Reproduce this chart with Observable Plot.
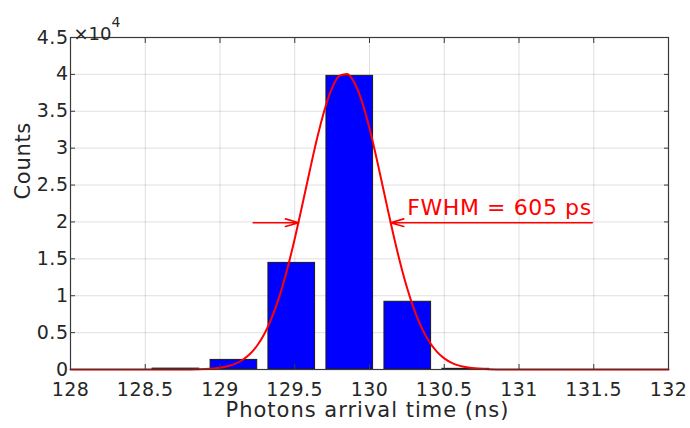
<!DOCTYPE html>
<html><head><meta charset="utf-8">
<script src="https://cdn.jsdelivr.net/npm/d3@7"></script>
<script src="https://cdn.jsdelivr.net/npm/@observablehq/plot@0.6"></script>
<style>body{margin:0;background:#fff;}</style>
</head><body><div id="chart"></div>
<script>
// Histogram bins (ns) and counts
const binCenters = [128.705, 129.093, 129.480, 129.868, 130.256, 130.644];
const counts = [120, 1300, 14450, 39800, 9180, 90];
const barHalfWidth = 0.156;

// Gaussian fit curve
const fitX = [128, 128.5, 128.8, 128.9, 129.0, 129.05, 129.1, 129.15, 129.2, 129.25, 129.3, 129.35, 129.4, 129.45, 129.5, 129.55, 129.6, 129.65, 129.7, 129.75, 129.8, 129.85, 129.9, 129.95, 130.0, 130.05, 130.1, 130.15, 130.2, 130.25, 130.3, 130.35, 130.4, 130.45, 130.5, 130.55, 130.6, 130.65, 130.7, 130.8, 130.9, 131.2, 132];
const fitY = [0, 1, 15, 66, 241, 438, 766, 1291, 2097, 3282, 4951, 7195, 10086, 13623, 17734, 22255, 26913, 31369, 35244, 38163, 39830, 40065, 38845, 36296, 32690, 28378, 23745, 19148, 14884, 11150, 8050, 5601, 3757, 2430, 1514, 909, 526, 294, 158, 41, 9, 0, 0];

// Ticks
const xTicks = [128, 128.5, 129, 129.5, 130, 130.5, 131, 131.5, 132];
const xTickLabels = ["128", "128.5", "129", "129.5", "130", "130.5", "131", "131.5", "132"];
const yTicks = [0, 5000, 10000, 15000, 20000, 25000, 30000, 35000, 40000, 45000];
const yTickLabels = ["0", "0.5", "1", "1.5", "2", "2.5", "3", "3.5", "4", "4.5"];

// Annotation
const fwhmText = ["FWHM = 605 ps"];
const fwhmTextPos = [130.252, 21900];
const arrowLeft = [{x1: 129.222, x2: 129.527, y: 19900}];
const arrowRight = [{x1: 131.49, x2: 130.14, y: 19900}];
const xLabel = ["Photons arrival time (ns)"];
const yLabel = ["Counts"];
const exponentBase = ["×10"];
const exponent = ["4"];

const bars = binCenters.map((c, i) => ({c, v: counts[i]}));
const fit = fitX.map((x, i) => ({x, y: fitY[i]}));
const axisColor = "#3a3a3a";

const chart = Plot.plot({
  width: 690, height: 428,
  marginLeft: 70, marginRight: 22, marginTop: 37, marginBottom: 59,
  style: {fontFamily: "DejaVu Sans", color: "#262626", background: "#fff"},
  x: {domain: [128, 132]},
  y: {domain: [0, 45000]},
  marks: [
    Plot.gridX(xTicks, {stroke: "#262626", strokeOpacity: 0.14}),
    Plot.gridY(yTicks, {stroke: "#262626", strokeOpacity: 0.14}),
    Plot.rect(bars, {x1: d => d.c - barHalfWidth, x2: d => d.c + barHalfWidth, y1: 0, y2: "v", fill: "#0000ff", stroke: "#1a1a1a", strokeWidth: 1}),
    Plot.line(fit, {x: "x", y: "y", stroke: "#ff0000", strokeWidth: 2, curve: "monotone-x"}),
    Plot.arrow(arrowLeft, {x1: "x1", x2: "x2", y1: "y", y2: "y", stroke: "#ff0000", strokeWidth: 1.6, headLength: 13, headAngle: 32}),
    Plot.arrow(arrowRight, {x1: "x1", x2: "x2", y1: "y", y2: "y", stroke: "#ff0000", strokeWidth: 1.6, headLength: 13, headAngle: 32}),
    Plot.text(fwhmText, {x: () => fwhmTextPos[0], y: () => fwhmTextPos[1], text: d => d, textAnchor: "start", fill: "#ff0000", fontSize: 22, className: "fwhm"}),
    Plot.frame({stroke: axisColor, strokeWidth: 1.2}),
    Plot.axisX(xTicks, {anchor: "bottom", tickSize: 0, tickPadding: 13, fontSize: 19, label: null, tickFormat: d => xTickLabels[xTicks.indexOf(d)], className: "xtl"}),
    Plot.axisX(xTicks, {anchor: "bottom", tickSize: -5, text: null, label: null, stroke: axisColor}),
    Plot.axisX(xTicks, {anchor: "top", tickSize: -5, text: null, label: null, stroke: axisColor}),
    Plot.axisY(yTicks, {anchor: "left", tickSize: 0, tickPadding: 2, fontSize: 19, label: null, tickFormat: d => yTickLabels[yTicks.indexOf(d)], className: "ytl"}),
    Plot.axisY(yTicks, {anchor: "left", tickSize: -5, text: null, label: null, stroke: axisColor}),
    Plot.axisY(yTicks, {anchor: "right", tickSize: -5, text: null, label: null, stroke: axisColor}),
    Plot.text(xLabel, {frameAnchor: "bottom", text: d => d, dy: 47.5, dx: -2, fontSize: 21, className: "xlab"}),
    Plot.text(yLabel, {frameAnchor: "left", text: d => d, rotate: -90, dx: -47, dy: -4, fontSize: 21, className: "ylab"}),
    Plot.text(exponentBase, {frameAnchor: "top-left", text: d => d, textAnchor: "start", dx: 3, dy: -10, fontSize: 18}),
    Plot.text(exponent, {frameAnchor: "top-left", text: d => d, textAnchor: "start", dx: 41, dy: -20, fontSize: 14})
  ]
});
document.getElementById("chart").appendChild(chart);
const s = d3.select(chart);
s.selectAll(".xtl text, .ytl text").style("letter-spacing", "0.5px");
s.selectAll(".xlab text").style("letter-spacing", "1px");
s.selectAll(".ylab text").style("letter-spacing", "0.7px");
s.selectAll(".fwhm text").style("letter-spacing", "0.6px");
</script>
</body></html>
